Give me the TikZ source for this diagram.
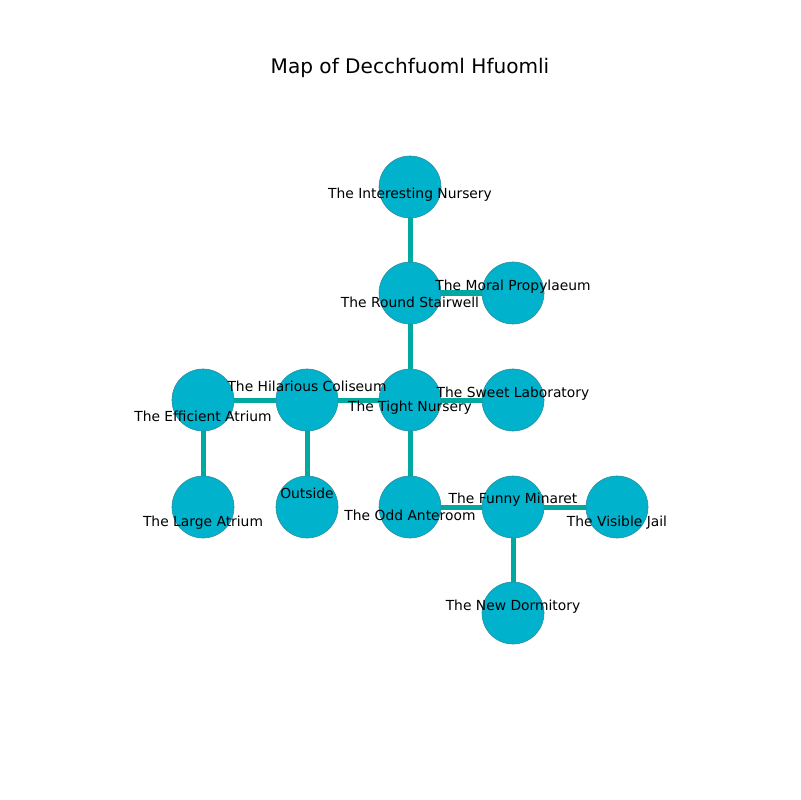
\documentclass[tikz,border=0pt]{standalone}
\usepackage{fontspec}
\setmainfont{DejaVu Sans}
\begin{document}
\begin{tikzpicture}[x=0.01in,y=-0.01in,
  room/.style={circle,draw=roomedge,fill=roomfill,line width=0.4pt,minimum size=0.62in,inner sep=0pt},
  tag/.style={font=\fontsize{10pt}{12pt}\selectfont,inner sep=0pt,text=black},
  link/.style={draw=linkcol,line width=0.05in}]
\definecolor{roomfill}{HTML}{00B2CC}
\definecolor{roomedge}{HTML}{2E8A99}
\definecolor{linkcol}{HTML}{00A8A0}
\useasboundingbox (0,0) rectangle (800,800);
\node[font=\fontsize{14.5pt}{17pt}\selectfont] (title) at (410,68) {Map of Decchfuoml Hfuomli};
% rooms
\node[room] (inter) at (410,187) {};
\node[room] (round) at (410,293) {};
\node[room] (moral) at (513,293) {};
\node[room] (effic) at (203,400) {};
\node[room] (hilar) at (307,400) {};
\node[room] (tight) at (410,400) {};
\node[room] (sweet) at (513,400) {};
\node[room] (large) at (203,507) {};
\node[room] (outs)  at (307,507) {};
\node[room] (odd)   at (410,507) {};
\node[room] (funny) at (513,507) {};
\node[room] (visib) at (617,507) {};
\node[room] (newd)  at (513,613) {};
% corridors
\path[link] (inter) -- (round);
\path[link] (round) -- (moral);
\path[link] (round) -- (tight);
\path[link] (tight) -- (sweet);
\path[link] (tight) -- (hilar);
\path[link] (hilar) -- (effic);
\path[link] (effic) -- (large);
\path[link] (hilar) -- (outs);
\path[link] (tight) -- (odd);
\path[link] (odd) -- (funny);
\path[link] (funny) -- (visib);
\path[link] (funny) -- (newd);
% room names
\node[tag] (tinter) at (410,195) {The Interesting Nursery};
\node[tag] (tround) at (410,302) {The Round Stairwell};
\node[tag] (tmoral) at (513,287) {The Moral Propylaeum};
\node[tag] (thilar) at (307,386) {The Hilarious Coliseum};
\node[tag] (ttight) at (410,408) {The Tight Nursery};
\node[tag] (tsweet) at (513,394) {The Sweet Laboratory};
\node[tag] (teffic) at (203,416) {The Efficient Atrium};
\node[tag] (tlarge) at (203,523) {The Large Atrium};
\node[tag] (touts)  at (307,493) {Outside};
\node[tag] (todd)   at (410,515) {The Odd Anteroom};
\node[tag] (tfunny) at (513,500) {The Funny Minaret};
\node[tag] (tvisib) at (617,523) {The Visible Jail};
\node[tag] (tnewd)  at (513,607) {The New Dormitory};
\end{tikzpicture}
\end{document}
